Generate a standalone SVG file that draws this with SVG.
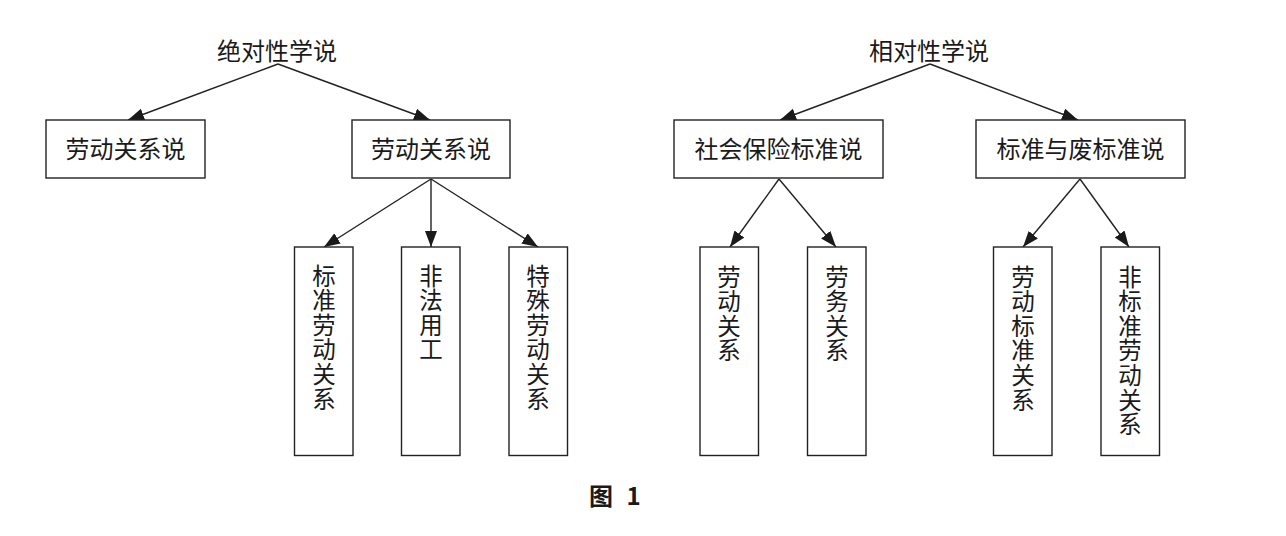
<svg xmlns="http://www.w3.org/2000/svg" width="1286" height="536" viewBox="0 0 1286 536">
<style>
.bg{fill:#ffffff}
.box{fill:#ffffff;stroke:#222222;stroke-width:1.4}
.t{font-family:"Noto Sans CJK SC","Noto Sans CJK JP",sans-serif;font-size:24px;fill:#1a1a1a;text-anchor:middle}
.v{font-family:"Noto Sans CJK SC","Noto Sans CJK JP",sans-serif;font-size:23.5px;fill:#1a1a1a;text-anchor:start;writing-mode:vertical-rl;letter-spacing:1.1px}
.cap{font-family:"Noto Sans CJK SC","Noto Sans CJK JP",sans-serif;font-size:24px;font-weight:bold;fill:#1a1a1a}
.c line{stroke:#222222;stroke-width:1.4;marker-end:url(#ah)}
</style>
<defs>
<marker id="ah" markerUnits="userSpaceOnUse" markerWidth="17" markerHeight="13" refX="16" refY="6" orient="auto">
<path d="M0,0 L16,6 L0,12 z" fill="#1a1a1a"/>
</marker>
</defs>
<rect class="bg" x="0" y="0" width="1286" height="536"/>

<g id="connectors" class="c">
<line x1="278" y1="64" x2="128" y2="120"/>
<line x1="278" y1="64" x2="430" y2="120"/>
<line x1="431" y1="179" x2="324" y2="247"/>
<line x1="431" y1="179" x2="431" y2="247"/>
<line x1="431" y1="179" x2="538" y2="247"/>
<line x1="930" y1="64" x2="780" y2="120"/>
<line x1="930" y1="64" x2="1078" y2="120"/>
<line x1="779" y1="179" x2="730" y2="247"/>
<line x1="779" y1="179" x2="836" y2="247"/>
<line x1="1080" y1="179" x2="1023" y2="247"/>
<line x1="1080" y1="179" x2="1129" y2="247"/>
</g>

<g id="n-abs"><text class="t" x="277" y="60">绝对性学说</text></g>
<g id="n-rel"><text class="t" x="929" y="60">相对性学说</text></g>

<g id="n-ldgx1"><rect class="box" x="46" y="120" width="159" height="58"/><text class="t" x="125.5" y="158">劳动关系说</text></g>
<g id="n-ldgx2"><rect class="box" x="352" y="120" width="158" height="58"/><text class="t" x="431" y="158">劳动关系说</text></g>
<g id="n-shbx"><rect class="box" x="674" y="120" width="209" height="58"/><text class="t" x="778.5" y="158">社会保险标准说</text></g>
<g id="n-bzyf"><rect class="box" x="976" y="120" width="209" height="58"/><text class="t" x="1080.5" y="158">标准与废标准说</text></g>

<g id="n-bzld"><rect class="box" x="294.5" y="247" width="58.5" height="208.5"/><text class="v" x="324" y="264">标准劳动关系</text></g>
<g id="n-ffyg"><rect class="box" x="401.5" y="247" width="58.5" height="208.5"/><text class="v" x="431" y="264">非法用工</text></g>
<g id="n-tsld"><rect class="box" x="509" y="247" width="58.5" height="208.5"/><text class="v" x="538" y="264">特殊劳动关系</text></g>

<g id="n-ldgx3"><rect class="box" x="700" y="247" width="58.5" height="208.5"/><text class="v" x="729" y="265">劳动关系</text></g>
<g id="n-lwgx"><rect class="box" x="807.5" y="247" width="58.5" height="208.5"/><text class="v" x="837" y="265">劳务关系</text></g>
<g id="n-ldbz"><rect class="box" x="993.5" y="247" width="58.5" height="208.5"/><text class="v" x="1023" y="265">劳动标准关系</text></g>
<g id="n-fbz"><rect class="box" x="1101" y="247" width="58.5" height="208.5"/><text class="v" x="1130" y="265">非标准劳动关系</text></g>

<g id="caption"><text class="cap" x="589" y="505" word-spacing="8">图 1</text></g>
</svg>
